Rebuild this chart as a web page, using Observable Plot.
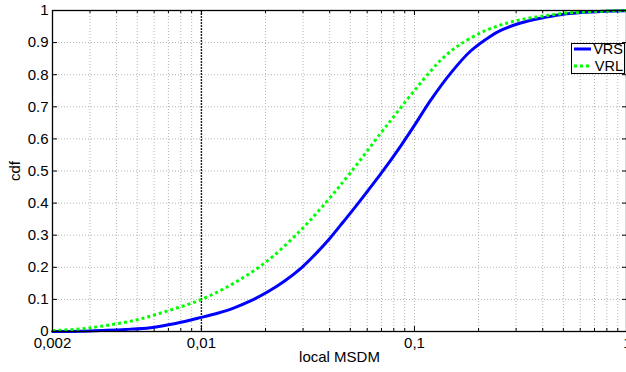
<!DOCTYPE html>
<html><head><meta charset="utf-8">
<script src="https://cdn.jsdelivr.net/npm/d3@7"></script>
<script src="https://cdn.jsdelivr.net/npm/@observablehq/plot@0.6"></script>
<style>
body{margin:0;background:#fff;font-family:"Liberation Sans",Arial,sans-serif}
#wrap{position:relative;width:626px;height:372px;overflow:hidden;background:#fff}
#legend{position:absolute;left:571px;top:43px;width:52px;height:29px;border:1px solid #000;background:#fff}
</style></head><body>
<div id="wrap"><div id="chart"></div><div id="legend"></div></div>
<script>
// Data
const vrsX = [0.002,0.00271,0.00336,0.0044,0.00577,0.00756,0.01,0.0119,0.01415,0.0171,0.0204,0.0243,0.0292,0.0351,0.0404,0.0464,0.0529,0.0602,0.0693,0.086,0.1,0.119,0.148,0.183,0.2276,0.254,0.315,0.391,0.485,0.671,1];
const vrsY = [0,0.0005,0.003,0.0065,0.012,0.025,0.044,0.057,0.073,0.096,0.123,0.155,0.196,0.248,0.293,0.342,0.389,0.437,0.49,0.577,0.642,0.72,0.805,0.873,0.92,0.938,0.961,0.976,0.987,0.995,0.999];
const vrlX = [0.002,0.00271,0.00336,0.0048,0.00693,0.01,0.01415,0.0204,0.0292,0.0391,0.0501,0.0693,0.0834,0.1014,0.119,0.1326,0.148,0.1646,0.204,0.254,0.315,0.404,0.52,0.7,1];
const vrlY = [0.003,0.008,0.016,0.034,0.064,0.1,0.15,0.22,0.315,0.408,0.495,0.617,0.685,0.756,0.811,0.845,0.873,0.895,0.93,0.955,0.971,0.983,0.992,0.997,1];
const seriesNames = ["VRS", "VRL"];
const seriesColors = ["#0000ff", "#00ff00"];
const yTicks = [0,0.1,0.2,0.3,0.4,0.5,0.6,0.7,0.8,0.9,1];
const yTickLabels = ["0","0.1","0.2","0.3","0.4","0.5","0.6","0.7","0.8","0.9","1"];
const xMajorTicks = [0.002, 0.01, 0.1, 1];
const xTickLabels = ["0,002", "0,01", "0,1", "1"];
const xLabel = "local MSDM";
const yLabel = "cdf";

const vrs = vrsX.map((x, i) => ({x, y: vrsY[i]}));
const vrl = vrlX.map((x, i) => ({x, y: vrlY[i]}));
const xGrid = d3.scaleLog().domain([0.002, 1]).ticks();
const xLab = new Map(xMajorTicks.map((d, i) => [d, xTickLabels[i]]));
const yLab = new Map(yTicks.map((d, i) => [d, yTickLabels[i]]));

const tickY = 0.0156;          // ~5px inward
const tickYMinor = 0.0095;     // ~3px inward
const tickXf = Math.pow(10, -5 / 213);

const chart = Plot.plot({
  width: 626, height: 372,
  marginLeft: 52, marginRight: 0, marginTop: 10, marginBottom: 41,
  style: {fontFamily: "Liberation Sans, Arial, sans-serif", fontSize: "15px", background: "#fff", color: "#000", overflow: "hidden"},
  x: {type: "log", domain: [0.002, 1], range: [52, 627]},
  y: {domain: [0, 1], range: [331, 10]},
  marks: [
    Plot.ruleX(xGrid, {stroke: "#b4b4b4", strokeDasharray: "1,2"}),
    Plot.ruleY(yTicks, {stroke: "#b4b4b4", strokeDasharray: "1,2"}),
    Plot.ruleX([0.01], {stroke: "#222", strokeDasharray: "2,1", strokeWidth: 1.4}),
    // inward ticks
    Plot.ruleX(xGrid, {y1: 0, y2: d => xMajorTicks.includes(d) ? tickY : tickYMinor, stroke: "#000"}),
    Plot.ruleX(xGrid, {y1: 1, y2: d => 1 - (xMajorTicks.includes(d) ? tickY : tickYMinor), stroke: "#000"}),
    Plot.ruleY(yTicks, {x1: 0.002, x2: 0.002 / tickXf, stroke: "#000"}),
    Plot.ruleY(yTicks, {x1: 1, x2: tickXf, stroke: "#000"}),
    Plot.line(vrs, {x: "x", y: "y", stroke: seriesColors[0], strokeWidth: 3, curve: "catmull-rom"}),
    Plot.line(vrl, {x: "x", y: "y", stroke: seriesColors[1], strokeWidth: 3, strokeDasharray: "3,3", strokeLinecap: "butt", curve: "catmull-rom"}),
    Plot.frame({stroke: "#000", strokeWidth: 1.3}),
    Plot.axisX(xMajorTicks, {tickSize: 0, tickPadding: 6, tickFormat: d => xLab.get(d), label: xLabel, labelAnchor: "center", labelArrow: false, labelOffset: 30}),
    Plot.axisY(yTicks, {tickSize: 0, tickPadding: 4, tickFormat: d => yLab.get(d), label: yLabel, labelAnchor: "center", labelArrow: false, labelOffset: 43})
  ]
});
document.getElementById("chart").appendChild(chart);

// legend
const ns = "http://www.w3.org/2000/svg";
const lsvg = document.createElementNS(ns, "svg");
lsvg.setAttribute("width", 52); lsvg.setAttribute("height", 29);
lsvg.style.display = "block";
lsvg.style.overflow = "visible";
seriesNames.forEach((name, i) => {
  const cy = 5 + i * 17;
  const ln = document.createElementNS(ns, "line");
  ln.setAttribute("x1", 2); ln.setAttribute("x2", 19);
  ln.setAttribute("y1", cy); ln.setAttribute("y2", cy);
  ln.setAttribute("stroke", seriesColors[i]); ln.setAttribute("stroke-width", 3);
  if (i === 1) ln.setAttribute("stroke-dasharray", "3,3");
  lsvg.appendChild(ln);
  const t = document.createElementNS(ns, "text");
  t.setAttribute("x", 51); t.setAttribute("y", cy);
  t.setAttribute("dy", "0.36em");
  t.setAttribute("text-anchor", "end");
  t.setAttribute("font-size", "14.5px");
  t.setAttribute("font-family", "Liberation Sans, Arial, sans-serif");
  t.textContent = name;
  lsvg.appendChild(t);
});
document.getElementById("legend").appendChild(lsvg);
</script></body></html>
